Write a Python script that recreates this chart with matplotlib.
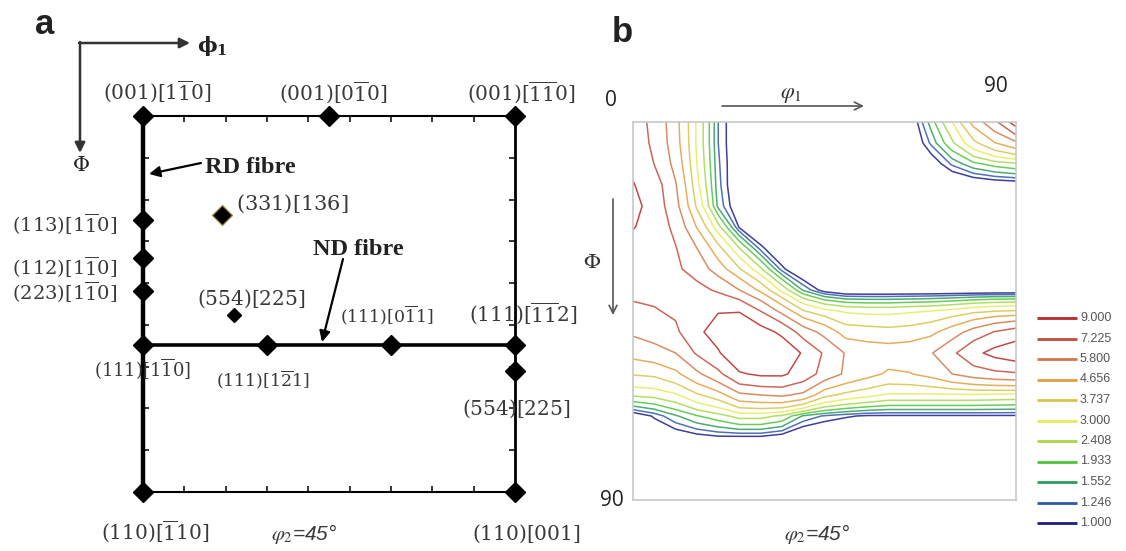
import matplotlib
matplotlib.use("Agg")
import matplotlib.pyplot as plt
import numpy as np

W, H = 1126, 551
plt.rcParams['mathtext.fontset'] = 'dejavuserif'

# ---------------- Panel a data: ideal orientations in the phi2 = 45 deg section ----------------
orient_labels = [r'$(001)[1\overline{1}0]$', r'$(001)[0\overline{1}0]$', r'$(001)[\overline{1}\overline{1}0]$',
                 r'$(113)[1\overline{1}0]$', r'$(112)[1\overline{1}0]$', r'$(223)[1\overline{1}0]$',
                 r'$(111)[1\overline{1}0]$', r'$(111)[1\overline{2}1]$', r'$(111)[0\overline{1}1]$',
                 r'$(111)[\overline{1}\overline{1}2]$', r'$(554)[225]$',
                 r'$(110)[\overline{1}10]$', r'$(110)[001]$']
orient_phi1 = [0, 45, 90, 0, 0, 0, 0, 30, 60, 90, 90, 0, 90]
orient_Phi = [0, 0, 0, 25, 34, 42, 54.7, 54.7, 54.7, 54.7, 61, 90, 90]
extra_labels = [r'$(331)[136]$', r'$(554)[225]$']
extra_phi1 = [19, 22]
extra_Phi = [23.7, 47.6]
nd_fibre_Phi = 54.7
grid_ticks = [10, 20, 30, 40, 50, 60, 70, 80]

# ---------------- Panel b data: ODF section values (phi2 = 45 deg) ----------------
phi1_grid = [0, 5, 10, 15, 20, 25, 30, 35, 40, 45, 50, 55, 60, 65, 70, 75, 80, 85, 90]
Phi_grid = [0, 5, 10, 15, 20, 25, 30, 35, 40, 45, 50, 55, 60, 65, 70, 75, 80, 85, 90]
odf_rows = [
    [8.0, 6.8, 5.0, 2.9, 1.25, 0.6, 0.4, 0.3, 0.3, 0.3, 0.3, 0.3, 0.3, 0.6, 1.7, 3.0, 5.0, 6.8, 10.0],
    [8.2, 6.9, 5.1, 2.9, 1.25, 0.6, 0.4, 0.3, 0.3, 0.3, 0.3, 0.3, 0.3, 0.5, 1.3, 2.3, 3.5, 4.6, 5.5],
    [8.6, 7.2, 5.4, 3.0, 1.3, 0.6, 0.4, 0.3, 0.3, 0.3, 0.3, 0.3, 0.3, 0.35, 0.7, 1.3, 1.8, 2.1, 2.3],
    [9.1, 8.0, 5.9, 3.2, 1.35, 0.55, 0.35, 0.3, 0.3, 0.3, 0.3, 0.3, 0.3, 0.3, 0.3, 0.45, 0.55, 0.65, 0.7],
    [9.6, 8.2, 6.2, 3.6, 1.45, 0.65, 0.4, 0.3, 0.3, 0.3, 0.3, 0.3, 0.3, 0.3, 0.3, 0.3, 0.3, 0.3, 0.3],
    [9.1, 8.3, 6.8, 4.6, 2.6, 0.95, 0.45, 0.3, 0.3, 0.3, 0.3, 0.3, 0.3, 0.3, 0.3, 0.3, 0.3, 0.3, 0.3],
    [8.3, 8.0, 7.3, 5.8, 4.0, 2.4, 1.1, 0.5, 0.3, 0.3, 0.3, 0.3, 0.3, 0.3, 0.3, 0.3, 0.3, 0.3, 0.3],
    [7.9, 7.8, 7.5, 6.6, 5.2, 3.8, 2.5, 1.1, 0.45, 0.3, 0.3, 0.3, 0.3, 0.3, 0.3, 0.3, 0.3, 0.3, 0.3],
    [7.6, 7.7, 7.8, 7.7, 7.0, 5.8, 4.4, 2.8, 1.5, 0.8, 0.55, 0.55, 0.55, 0.55, 0.55, 0.55, 0.55, 0.55, 0.55],
    [6.9, 7.1, 7.5, 8.4, 8.9, 8.9, 7.2, 5.4, 3.8, 3.2, 2.9, 2.8, 2.8, 2.9, 3.0, 3.2, 3.5, 3.7, 3.8],
    [6.0, 6.4, 6.9, 8.6, 9.8, 10.5, 9.8, 8.6, 6.5, 5.4, 4.2, 4.1, 4.0, 4.1, 4.4, 5.2, 6.3, 7.3, 8.0],
    [5.0, 5.3, 5.8, 7.4, 8.8, 10.6, 11.0, 10.4, 8.8, 7.0, 5.7, 5.3, 5.2, 5.3, 5.7, 6.9, 8.5, 9.6, 10.3],
    [3.8, 3.9, 4.4, 5.5, 6.8, 8.8, 9.3, 9.3, 8.2, 6.6, 5.6, 5.0, 4.5, 4.6, 5.0, 5.8, 6.4, 6.8, 7.0],
    [2.5, 2.6, 2.9, 3.6, 4.2, 5.5, 5.8, 6.0, 5.5, 4.0, 3.5, 3.2, 2.9, 2.9, 2.9, 2.9, 2.9, 2.85, 2.8],
    [0.7, 1.05, 1.5, 1.9, 2.2, 2.6, 2.6, 2.3, 1.5, 1.2, 1.05, 0.95, 0.95, 0.95, 0.95, 0.95, 0.95, 0.95, 0.95],
    [0.4, 0.6, 0.7, 0.85, 0.95, 0.95, 0.95, 0.8, 0.5, 0.45, 0.4, 0.4, 0.4, 0.4, 0.4, 0.4, 0.4, 0.4, 0.4],
    [0.4, 0.4, 0.45, 0.5, 0.5, 0.5, 0.5, 0.45, 0.4, 0.4, 0.4, 0.4, 0.4, 0.4, 0.4, 0.4, 0.4, 0.4, 0.4],
    [0.35, 0.35, 0.35, 0.35, 0.35, 0.35, 0.35, 0.35, 0.35, 0.35, 0.35, 0.35, 0.35, 0.35, 0.35, 0.35, 0.35, 0.35, 0.35],
    [0.3, 0.3, 0.3, 0.3, 0.3, 0.3, 0.3, 0.3, 0.3, 0.3, 0.3, 0.3, 0.3, 0.3, 0.3, 0.3, 0.3, 0.3, 0.3],
]
levels = [1.000, 1.246, 1.552, 1.933, 2.408, 3.000, 3.737, 4.656, 5.800, 7.225, 9.000]
level_colors = ['#1c1c8c', '#2f5aa8', '#2f9a5c', '#4cc43c', '#a6d848', '#e6ec5a',
                '#d8c44a', '#e0a040', '#d27848', '#c44c3c', '#b82828']

# ---------------- figure ----------------
fig = plt.figure(figsize=(W / 100, H / 100), dpi=100)

# overlay in pixel coordinates for annotations
ov = fig.add_axes([0, 0, 1, 1])
ov.set_xlim(0, W)
ov.set_ylim(H, 0)
ov.axis('off')
ov.set_zorder(5)

txt_col = '#3a3a3a'

# ---- panel a ----
axa = fig.add_axes([143 / W, 1 - 492 / H, 372 / W, 376 / H])
axa.set_xlim(0, 90)
axa.set_ylim(90, 0)
axa.axis('off')
kw = dict(color='black', solid_capstyle='butt', clip_on=False)
axa.plot([0, 90], [0, 0], lw=1.5, **kw)
axa.plot([0, 90], [90, 90], lw=1.5, **kw)
axa.plot([0, 0], [0, 90], lw=3.2, **kw)
axa.plot([90, 90], [0, 90], lw=2.0, **kw)
axa.plot([0, 90], [nd_fibre_Phi, nd_fibre_Phi], lw=2.6, **kw)
tx, ty = 1.45, 1.4
for t in grid_ticks:
    axa.plot([t, t], [0, ty], lw=1.1, **kw)
    axa.plot([t, t], [90, 90 - ty], lw=1.1, **kw)
    axa.plot([0, tx], [t, t], lw=1.1, **kw)
    axa.plot([90, 90 - tx], [t, t], lw=1.1, **kw)
axa.plot(orient_phi1, orient_Phi, 'D', ms=10, color='black', clip_on=False, zorder=6)
axa.plot(extra_phi1[:1], extra_Phi[:1], 'D', ms=10.5, mfc='black', mec='#9c8a40', mew=0.9,
         clip_on=False, zorder=6)
axa.plot(extra_phi1[1:], extra_Phi[1:], 'D', ms=7, color='black', clip_on=False, zorder=6)

# label layout (pixel x, baseline y, fontsize)
label_pos = [(157, 100, 14.5), (333, 101, 14.5), (521, 101, 14.5),
             (65, 232, 14), (65, 275, 14), (65, 300, 14),
             (143, 377, 13), (263, 386, 12.5), (387, 322, 12.5),
             (523, 322, 14.5), (516, 415, 14.5),
             (155, 540, 14.5), (526, 540, 14.5)]
for lab, (x, y, fs) in zip(orient_labels, label_pos):
    ov.text(x, y, lab, ha='center', va='baseline', fontsize=fs, color=txt_col)
extra_pos = [(292, 210, 15), (251, 305, 14.5)]
for lab, (x, y, fs) in zip(extra_labels, extra_pos):
    ov.text(x, y, lab, ha='center', va='baseline', fontsize=fs, color=txt_col)

ov.text(205, 173, 'RD fibre', ha='left', va='baseline', fontsize=17.5, fontweight='bold',
        family='Liberation Serif', color='#222222')
ov.annotate('', xy=(149, 174), xytext=(201, 163),
            arrowprops=dict(arrowstyle='-|>', lw=1.6, color='black', mutation_scale=16,
                            shrinkA=0, shrinkB=0))
ov.text(313, 255, 'ND fibre', ha='left', va='baseline', fontsize=17.5, fontweight='bold',
        family='Liberation Serif', color='#222222')
ov.annotate('', xy=(322, 342), xytext=(343, 259),
            arrowprops=dict(arrowstyle='-|>', lw=1.6, color='black', mutation_scale=16,
                            shrinkA=0, shrinkB=0))

# phi1 / Phi frame
ov.annotate('', xy=(190, 43), xytext=(79, 43),
            arrowprops=dict(arrowstyle='-|>', lw=1.8, color='#333333', mutation_scale=15,
                            shrinkA=0, shrinkB=0))
ov.annotate('', xy=(80, 153), xytext=(80, 42),
            arrowprops=dict(arrowstyle='-|>', lw=1.8, color='#333333', mutation_scale=15,
                            shrinkA=0, shrinkB=0))
ov.text(197, 52, r'$\mathbf{\phi_1}$', ha='left', va='baseline', fontsize=15, color='#222222')
ov.text(81, 171, 'Φ', ha='center', va='baseline', fontsize=15, family='DejaVu Serif',
        color='#222222')

ov.text(304, 540, r'$\varphi_2$=45°', ha='center', va='baseline', fontsize=15,
        style='italic', family='Liberation Sans', math_fontfamily='stix', color=txt_col)
ov.text(35, 34, 'a', ha='left', va='baseline', fontsize=25, fontweight='bold',
        family='Liberation Sans', color='#222222')

# ---- panel b ----
axb = fig.add_axes([633 / W, 1 - 500 / H, 383 / W, 378 / H])
odf = np.array(odf_rows)
axb.contour(phi1_grid, Phi_grid, odf, levels=levels, colors=level_colors,
            linewidths=1.1, alpha=0.85)
axb.set_xlim(0, 90)
axb.set_ylim(90, 0)
axb.set_xticks([])
axb.set_yticks([])
for s in axb.spines.values():
    s.set_color('#c8c8c8')
    s.set_linewidth(1.2)

ov.text(612, 42, 'b', ha='left', va='baseline', fontsize=25, fontweight='bold',
        family='Liberation Sans', color='#222222')
ov.text(611, 100, '0', ha='center', va='center', fontsize=15, family='Open Sans', color='#222222')
ov.text(996, 86, '90', ha='center', va='center', fontsize=15, family='Open Sans', color='#222222')
ov.text(612, 500, '90', ha='center', va='center', fontsize=15, family='Open Sans', color='#222222')
ov.text(791, 98, r'$\varphi_1$', ha='center', va='baseline', fontsize=16,
        math_fontfamily='stix', color='#333333')
ov.annotate('', xy=(864, 106), xytext=(722, 106),
            arrowprops=dict(arrowstyle='->', lw=1.2, color='#555555', mutation_scale=14,
                            shrinkA=0, shrinkB=0))
ov.annotate('', xy=(613, 315), xytext=(613, 199),
            arrowprops=dict(arrowstyle='->', lw=1.2, color='#555555', mutation_scale=14,
                            shrinkA=0, shrinkB=0))
ov.text(592, 262, r'$\Phi$', ha='center', va='center', fontsize=16, math_fontfamily='stix',
        style='italic', color='#333333')
ov.text(817, 540, r'$\varphi_2$=45°', ha='center', va='baseline', fontsize=15,
        style='italic', family='Liberation Sans', math_fontfamily='stix', color=txt_col)

# legend
for i, (lev, col) in enumerate(zip(levels[::-1], level_colors[::-1])):
    y = 318 + i * 20.5
    ov.plot([1037, 1077], [y, y], color=col, lw=2.0, solid_capstyle='butt')
    ov.text(1080, y, f'{lev:.3f}', ha='left', va='center', fontsize=9,
            family='Liberation Sans', color='#555555')

fig.savefig('out.png', dpi=100)
